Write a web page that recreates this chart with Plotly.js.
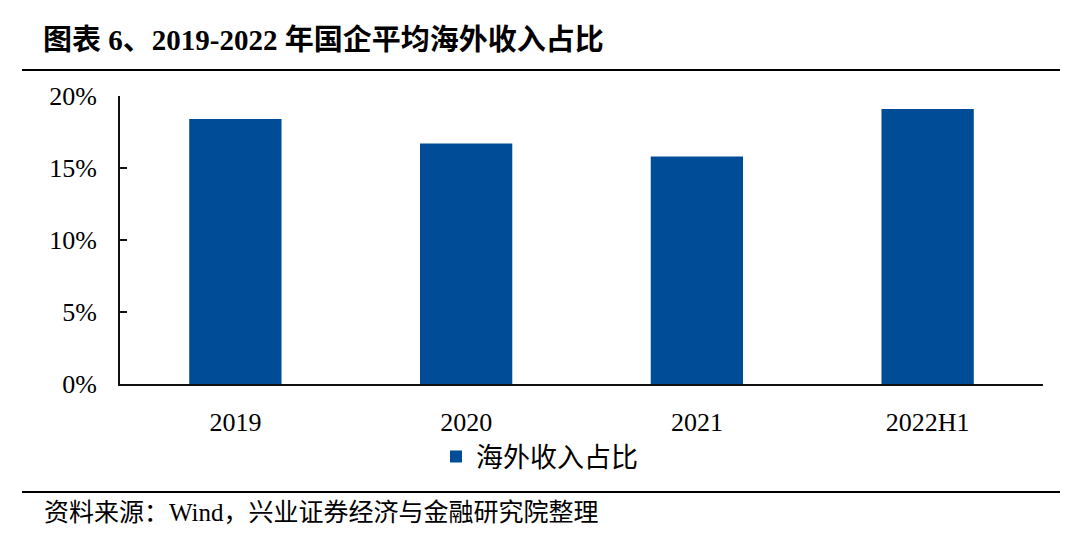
<!DOCTYPE html>
<html>
<head>
<meta charset="utf-8">
<script src="https://cdn.plot.ly/plotly-3.0.1.min.js"></script>
<style>html,body{margin:0;padding:0;background:#fff;}#chart{width:1080px;height:541px;}</style>
</head>
<body>
<div id="chart"></div>
<script>
const categories = ["2019", "2020", "2021", "2022H1"];
const shareValues = [18.4, 16.7, 15.8, 19.1];
const seriesName = "海外收入占比";
const yTickVals = [0, 5, 10, 15, 20];
const yTickText = ["0%", "5%", "10%", "15%", "20%"];
const titleText = "<b>图表 6、2019-2022 年国企平均海外收入占比</b>";
const sourceText = "资料来源：Wind，兴业证券经济与金融研究院整理";

const W = 1080, H = 541;
const L = 120, R = 37, T = 96, B = 157;
const pw = W - L - R, ph = H - T - B;
const px = x => (x - L) / pw;
const py = y => (H - B - y) / ph;

const serif = "Liberation Serif, Noto Sans CJK SC, serif";

const trace = {
  type: "bar",
  x: categories,
  y: shareValues,
  name: seriesName,
  marker: {color: "#004C97"},
  hoverinfo: "skip"
};

const layout = {
  width: W, height: H,
  margin: {l: L, r: R, t: T, b: B, pad: 0},
  paper_bgcolor: "#fff",
  plot_bgcolor: "#fff",
  bargap: 0.6,
  showlegend: true,
  title: {
    text: titleText,
    xref: "container", yref: "container",
    x: 43 / W, xanchor: "left",
    y: 1 - 40 / H, yanchor: "middle",
    font: {family: serif, size: 29, color: "#000"}
  },
  legend: {
    orientation: "h",
    x: px(436), xanchor: "left",
    y: py(457), yanchor: "middle",
    font: {family: "Noto Sans CJK SC, sans-serif", size: 27, color: "#000"},
    bgcolor: "rgba(0,0,0,0)"
  },
  xaxis: {
    type: "category",
    showline: true, linecolor: "#111", linewidth: 2,
    ticks: "", showgrid: false, zeroline: false,
    tickfont: {family: serif, size: 26, color: "#000"},
    ticklabelstandoff: 14
  },
  yaxis: {
    range: [0, 20],
    tickvals: yTickVals, ticktext: yTickText,
    showline: true, linecolor: "#111", linewidth: 2,
    ticks: "inside", ticklen: 7, tickwidth: 2, tickcolor: "#111",
    showgrid: false, zeroline: false,
    tickfont: {family: serif, size: 26, color: "#000"},
    ticklabelstandoff: 16
  },
  shapes: [
    {type: "line", xref: "paper", yref: "paper", x0: px(22), x1: px(1060), y0: py(70), y1: py(70), line: {color: "#000", width: 2}},
    {type: "line", xref: "paper", yref: "paper", x0: px(22), x1: px(1060), y0: py(492), y1: py(492), line: {color: "#000", width: 2}}
  ],
  annotations: [
    {text: sourceText, xref: "paper", yref: "paper", x: px(42), y: py(512), xanchor: "left", yanchor: "middle", showarrow: false,
     font: {family: serif, size: 25, color: "#000"}}
  ]
};

Plotly.newPlot("chart", [trace], layout, {staticPlot: true, displayModeBar: false});
</script>
</body>
</html>
